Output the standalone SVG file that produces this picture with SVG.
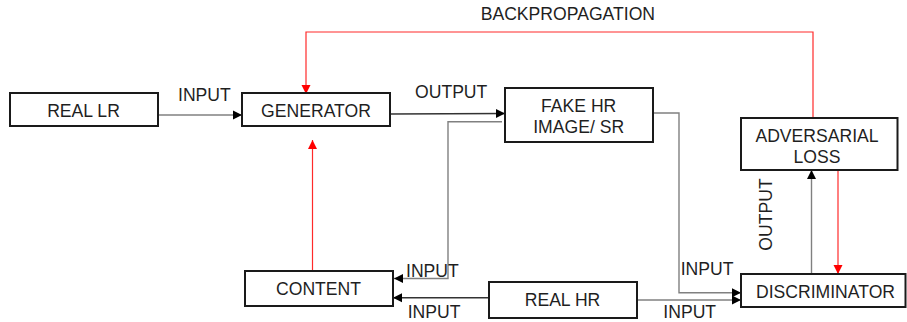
<svg xmlns="http://www.w3.org/2000/svg" width="907" height="322" viewBox="0 0 907 322">
  <style>
    .box { fill: #ffffff; stroke: #1a1a1a; stroke-width: 2; }
    .lbl { font-family: "Liberation Sans", Arial, sans-serif; font-size: 17.6px; fill: #1f1f1f; }
    .mid { text-anchor: middle; }
    .wire { fill: none; stroke: #808080; stroke-width: 1.4; }
    .dark { stroke: #333333; }
    .red { fill: none; stroke: #ff2a2a; stroke-width: 1.2; }
  </style>
  <defs>
    <marker id="arrow" markerUnits="userSpaceOnUse" markerWidth="10" markerHeight="10" refX="9" refY="5" orient="auto">
      <path d="M0,0.5 L9,5 L0,9.5 Z" fill="#000000"/>
    </marker>
    <marker id="arrowRed" markerUnits="userSpaceOnUse" markerWidth="10" markerHeight="10" refX="9" refY="5" orient="auto">
      <path d="M0,0.5 L9,5 L0,9.5 Z" fill="#ff0000"/>
    </marker>
  </defs>

  <rect width="907" height="322" fill="#ffffff"/>

  <g id="connectors">
    <line class="wire" x1="158" y1="115" x2="242" y2="115" marker-end="url(#arrow)"/>
    <line class="wire dark" x1="390" y1="114" x2="505" y2="113.5" marker-end="url(#arrow)"/>
    <polyline class="wire" points="502,121.7 448,121.7 448,278.5 394,278.5" marker-end="url(#arrow)"/>
    <line class="wire dark" x1="489" y1="297.7" x2="393" y2="297.7" marker-end="url(#arrow)"/>
    <polyline class="wire" points="653,113 679,113 679,292.7 741,292.7" marker-end="url(#arrow)"/>
    <line class="wire" x1="637" y1="300" x2="741" y2="300" marker-end="url(#arrow)"/>
    <line class="wire" x1="811.5" y1="274" x2="811.5" y2="170" marker-end="url(#arrow)"/>
    <line class="red" x1="838" y1="170" x2="838" y2="274" marker-end="url(#arrowRed)"/>
    <polyline class="red" points="813,117 813,32 306,32 306,94" marker-end="url(#arrowRed)"/>
    <line class="red" x1="312.5" y1="271" x2="312.5" y2="140" marker-end="url(#arrowRed)"/>

    <text class="lbl" x="178" y="100.7">INPUT</text>
    <text class="lbl" x="415" y="98.3">OUTPUT</text>
    <text class="lbl" x="480.7" y="20">BACKPROPAGATION</text>
    <text class="lbl" x="406" y="276.7">INPUT</text>
    <text class="lbl" x="407.7" y="318.3">INPUT</text>
    <text class="lbl" x="680.7" y="275">INPUT</text>
    <text class="lbl" x="663.3" y="318.3">INPUT</text>
    <text class="lbl" transform="translate(771.5,250.7) rotate(-90)">OUTPUT</text>
  </g>

  <g id="real-lr">
    <rect class="box" x="10" y="93" width="148" height="33"/>
    <text class="lbl mid" x="83.5" y="117.3">REAL LR</text>
  </g>

  <g id="generator">
    <rect class="box" x="242" y="93" width="148" height="33"/>
    <text class="lbl mid" x="316" y="117.3">GENERATOR</text>
  </g>

  <g id="fake-hr">
    <rect class="box" x="505" y="88" width="148" height="54"/>
    <text class="lbl mid" x="578.7" y="112.3">FAKE HR</text>
    <text class="lbl mid" x="578.7" y="133.3">IMAGE/ SR</text>
  </g>

  <g id="adversarial-loss">
    <rect class="box" x="741" y="118" width="156.5" height="52"/>
    <text class="lbl mid" x="817" y="141.7">ADVERSARIAL</text>
    <text class="lbl mid" x="817" y="163.3">LOSS</text>
  </g>

  <g id="content">
    <rect class="box" x="245" y="271" width="148" height="35"/>
    <text class="lbl mid" x="318.5" y="295">CONTENT</text>
  </g>

  <g id="real-hr">
    <rect class="box" x="489" y="282" width="148" height="36"/>
    <text class="lbl mid" x="562.5" y="305.7">REAL HR</text>
  </g>

  <g id="discriminator">
    <rect class="box" x="741" y="274" width="164.5" height="33"/>
    <text class="lbl mid" x="825.5" y="298.3">DISCRIMINATOR</text>
  </g>
</svg>
